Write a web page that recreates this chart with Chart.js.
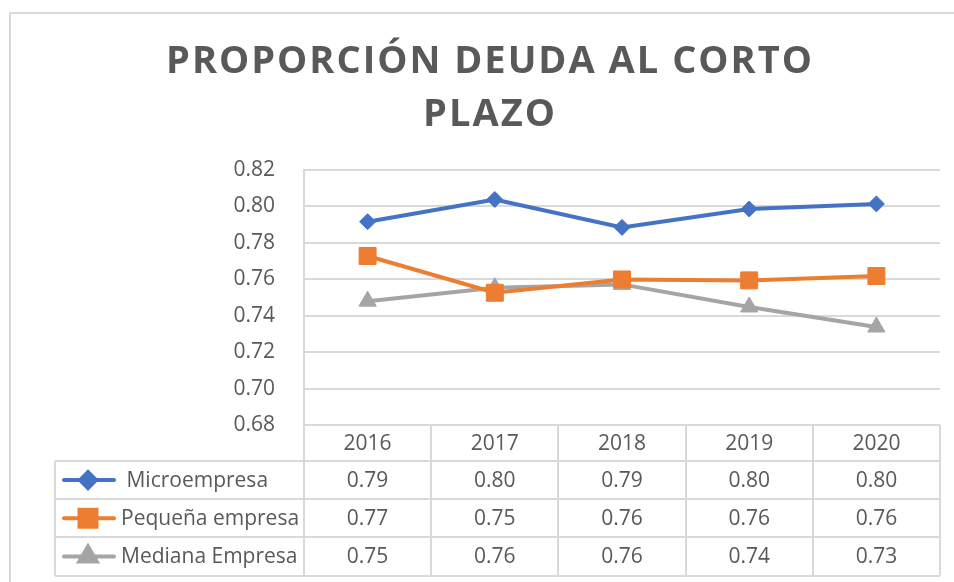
<!DOCTYPE html>
<html>
<head>
<meta charset="utf-8">
<title>Proporción deuda al corto plazo</title>
<script src="https://cdn.jsdelivr.net/npm/chart.js@4"></script>
<style>
  html, body { margin: 0; padding: 0; background: #fff; overflow: hidden; }
  #wrap { position: relative; width: 954px; height: 582px; }
  #frame { position: absolute; left: 9px; top: 12px; width: 1000px; height: 700px;
           border: 2px solid #d9d9d9; box-sizing: border-box; }
  #title { position: absolute; left: 10px; width: 960px; top: 32px; text-align: center;
           font-family: 'Open Sans', sans-serif; font-weight: 700; font-size: 38px;
           line-height: 53px; letter-spacing: 2px; color: #595959; }
  canvas { position: absolute; left: 0; top: 0; }
</style>
</head>
<body>
<div id="wrap">
  <div id="frame"></div>
  <canvas id="myChart" width="954" height="582"></canvas>
  <div id="title">PROPORCIÓN DEUDA AL CORTO<br>PLAZO</div>
</div>
<script>
  // data
  const years = ['2016', '2017', '2018', '2019', '2020'];
  const micro = [0.7916, 0.8038, 0.7885, 0.7986, 0.8014];
  const pequena = [0.7728, 0.7526, 0.7599, 0.7594, 0.7618];
  const mediana = [0.7480, 0.7554, 0.7572, 0.7448, 0.7338];
  const seriesNames = [' Microempresa', 'Pequeña empresa', 'Mediana Empresa'];
  const yMin = 0.68, yMax = 0.82, yStep = 0.02;

  const textColor = '#595959';
  const lineGrey = '#d9d9d9';
  const font = '"Open Sans", sans-serif';

  function series(label, data, color, style, radius) {
    return {
      label: label,
      data: data,
      borderColor: color,
      backgroundColor: color,
      borderWidth: 4,
      tension: 0,
      pointStyle: style,
      pointRadius: radius,
      pointBorderWidth: 1,
      pointBorderColor: color,
      pointBackgroundColor: color
    };
  }

  // data table under the plot, columns taken from the x scale
  const dataTable = {
    id: 'dataTable',
    afterDraw(chart) {
      const ctx = chart.ctx;
      const x = chart.scales.x;
      const area = chart.chartArea;
      const n = years.length;
      const step = x.getPixelForValue(1) - x.getPixelForValue(0);
      const top = area.bottom;
      const headH = 36, rowH = 38.2;
      const keyLeft = 55;
      const rows = chart.data.datasets.length;
      const bottom = top + headH + rowH * rows;

      ctx.save();
      ctx.strokeStyle = lineGrey;
      ctx.lineWidth = 2;
      ctx.beginPath();
      ctx.moveTo(area.left, top); ctx.lineTo(area.right, top);
      for (let r = 0; r <= rows; r++) {
        const yy = Math.round(top + headH + rowH * r);
        ctx.moveTo(keyLeft, yy); ctx.lineTo(area.right, yy);
      }
      for (let i = 0; i <= n; i++) {
        const xx = Math.round(x.getPixelForValue(Math.min(i, n - 1)) + (i < n ? -step / 2 : step / 2));
        ctx.moveTo(xx, top); ctx.lineTo(xx, bottom);
      }
      ctx.moveTo(keyLeft, top + headH); ctx.lineTo(keyLeft, bottom);
      ctx.stroke();

      ctx.fillStyle = textColor;
      ctx.font = '21px ' + font;
      ctx.textAlign = 'center';
      ctx.textBaseline = 'middle';
      years.forEach((yr, i) => ctx.fillText(yr, x.getPixelForValue(i), top + headH / 2 + 1));

      chart.data.datasets.forEach((ds, r) => {
        const cy = top + headH + rowH * r + rowH / 2 + 1;
        ds.data.forEach((v, i) => {
          ctx.fillStyle = textColor;
          ctx.textAlign = 'center';
          ctx.fillText(v.toFixed(2), x.getPixelForValue(i), cy);
        });
        // legend key
        ctx.strokeStyle = ds.borderColor;
        ctx.lineWidth = 4;
        ctx.lineCap = 'round';
        ctx.beginPath();
        ctx.moveTo(64, cy - 1); ctx.lineTo(114, cy - 1);
        ctx.stroke();
        ctx.fillStyle = ds.backgroundColor;
        Chart.helpers.drawPoint(ctx, {
          pointStyle: ds.pointStyle, radius: ds.pointRadius, borderWidth: 1, rotation: 0
        }, 88, cy - 1);
        ctx.fillStyle = textColor;
        ctx.textAlign = 'left';
        ctx.fillText(ds.label, 121, cy);
      });
      ctx.restore();
    }
  };

  const ctx = document.getElementById('myChart').getContext('2d');
  new Chart(ctx, {
    type: 'line',
    data: {
      labels: years,
      datasets: [
        series(seriesNames[0], micro, '#4472c4', 'rectRot', 8),
        series(seriesNames[1], pequena, '#ed7d31', 'rect', 12),
        series(seriesNames[2], mediana, '#a5a5a5', 'triangle', 10)
      ]
    },
    options: {
      responsive: false,
      animation: false,
      layout: { padding: { top: 170, right: 14, bottom: 157, left: 0 } },
      plugins: {
        legend: { display: false },
        tooltip: { enabled: false },
        title: { display: false }
      },
      scales: {
        x: { display: false, offset: true },
        y: {
          min: yMin,
          max: yMax,
          afterFit(scale) { scale.width = 304; },
          border: { display: true, color: lineGrey, width: 2 },
          grid: { color: lineGrey, lineWidth: 2, drawTicks: false },
          ticks: {
            stepSize: yStep,
            padding: 29,
            color: textColor,
            font: { family: font, size: 21 },
            callback: v => v.toFixed(2)
          }
        }
      }
    },
    plugins: [dataTable]
  });
</script>
</body>
</html>
